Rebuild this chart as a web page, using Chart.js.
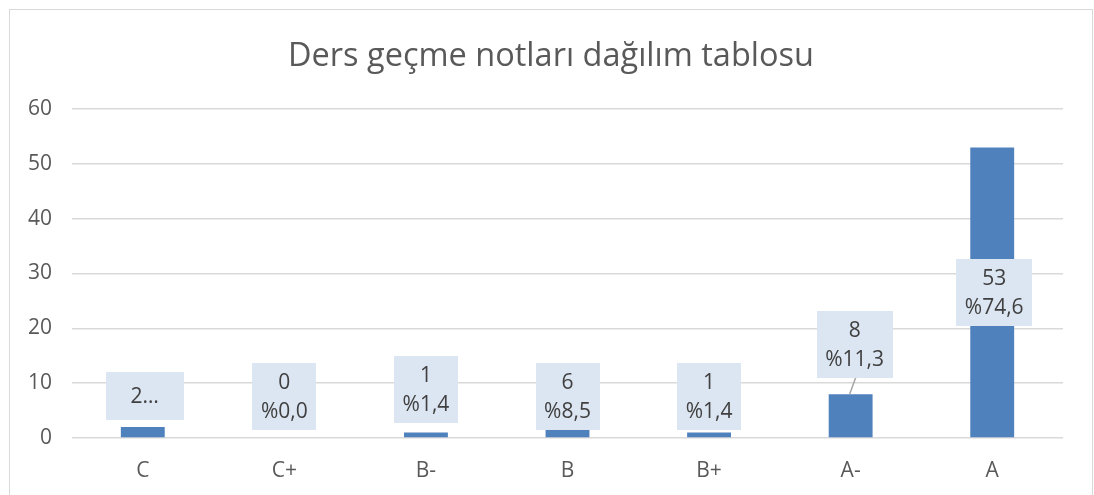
<!DOCTYPE html>
<html>
<head>
<meta charset="utf-8">
<script src="https://cdn.jsdelivr.net/npm/chart.js@4"></script>
<style>
  html, body { margin: 0; padding: 0; background: #fff; }
  #wrap { position: absolute; left: 0; top: 0; width: 1094px; height: 495px; }
  #frame { position: absolute; left: 9px; top: 9px; width: 1082px; height: 500px; border: 1px solid #d9d9d9; }
</style>
</head>
<body>
<div id="frame"></div>
<div id="wrap"><canvas id="myChart" width="1094" height="495"></canvas></div>
<script>
// veriler
const grades = ['C', 'C+', 'B-', 'B', 'B+', 'A-', 'A'];
const counts = [2, 0, 1, 6, 1, 8, 53];
const percents = ['2,8', '0,0', '1,4', '8,5', '1,4', '11,3', '74,6'];
const yTicks = [0, 10, 20, 30, 40, 50, 60];

const textColor = '#595959';
const fontName = '"Open Sans", "DejaVu Sans", sans-serif';

// etiket kutulari (Excel'deki gibi elle yerlestirilmis)
const labelBoxes = {
  id: 'labelBoxes',
  afterDatasetsDraw(chart, args, opts) {
    const ctx = chart.ctx;
    const meta = chart.getDatasetMeta(0);
    const y = chart.scales.y;
    ctx.save();
    ctx.font = '21px ' + fontName;
    ctx.textAlign = 'center';
    ctx.textBaseline = 'middle';
    meta.data.forEach((bar, i) => {
      let lines = [String(counts[i]), '%' + percents[i]];
      if (i === 0) lines = ['2…'];
      const cy = y.getPixelForValue(opts.centers[i]);
      let w = Math.max(...lines.map(l => ctx.measureText(l).width)) + 17;
      if (i === 0) w = 78;
      const lh = 29;
      const h = lines.length === 1 ? 48 : 67;
      const cx = bar.x + (opts.shift[i] || 0);
      // leader line
      if (i === 5) {
        ctx.strokeStyle = '#a6a6a6';
        ctx.lineWidth = 1.5;
        ctx.beginPath();
        ctx.moveTo(cx + 1, cy + h / 2);
        ctx.lineTo(bar.x - 1, bar.y);
        ctx.stroke();
      }
      ctx.fillStyle = '#dce6f2';
      ctx.fillRect(Math.round(cx - w / 2), Math.round(cy - h / 2), Math.round(w), h);
      ctx.fillStyle = '#404040';
      lines.forEach((l, k) => {
        ctx.fillText(l, cx, cy + (k - (lines.length - 1) / 2) * lh + 1);
      });
    });
    ctx.restore();
  }
};

// baslik
const titlePlugin = {
  id: 'titlePlugin',
  afterDraw(chart) {
    const ctx = chart.ctx;
    ctx.save();
    ctx.font = '32.5px ' + fontName;
    ctx.fillStyle = textColor;
    ctx.textAlign = 'center';
    ctx.textBaseline = 'middle';
    ctx.fillText('Ders geçme notları dağılım tablosu', 551, 57);
    ctx.restore();
  }
};

const ctx = document.getElementById('myChart');
new Chart(ctx, {
  type: 'bar',
  data: {
    labels: grades,
    datasets: [{
      data: counts,
      backgroundColor: '#4f81bd',
      categoryPercentage: 0.31,
      barPercentage: 1
    }]
  },
  options: {
    responsive: false,
    animation: false,
    layout: { padding: { left: 10, right: 31, top: 109, bottom: 9 } },
    plugins: {
      legend: { display: false },
      tooltip: { enabled: false },
      labelBoxes: {
        centers: [7.7, 7.5, 8.9, 7.5, 7.5, 17.1, 26.5],
        shift: [2, 0, 0, 0, 0, 4, 2]
      }
    },
    scales: {
      x: {
        grid: { display: false },
        border: { display: false },
        ticks: { color: textColor, font: { family: fontName, size: 21 }, padding: 12 },
        afterFit(scale) { scale.height = 48; }
      },
      y: {
        min: 0,
        max: 60,
        afterBuildTicks(scale) { scale.ticks = yTicks.map(v => ({ value: v })); },
        grid: { color: '#d9d9d9', lineWidth: 1.5, drawTicks: false },
        border: { display: false },
        ticks: { color: textColor, font: { family: fontName, size: 21 }, padding: 20 },
        afterFit(scale) { scale.width = 62; }
      }
    }
  },
  plugins: [labelBoxes, titlePlugin]
});
</script>
</body>
</html>
